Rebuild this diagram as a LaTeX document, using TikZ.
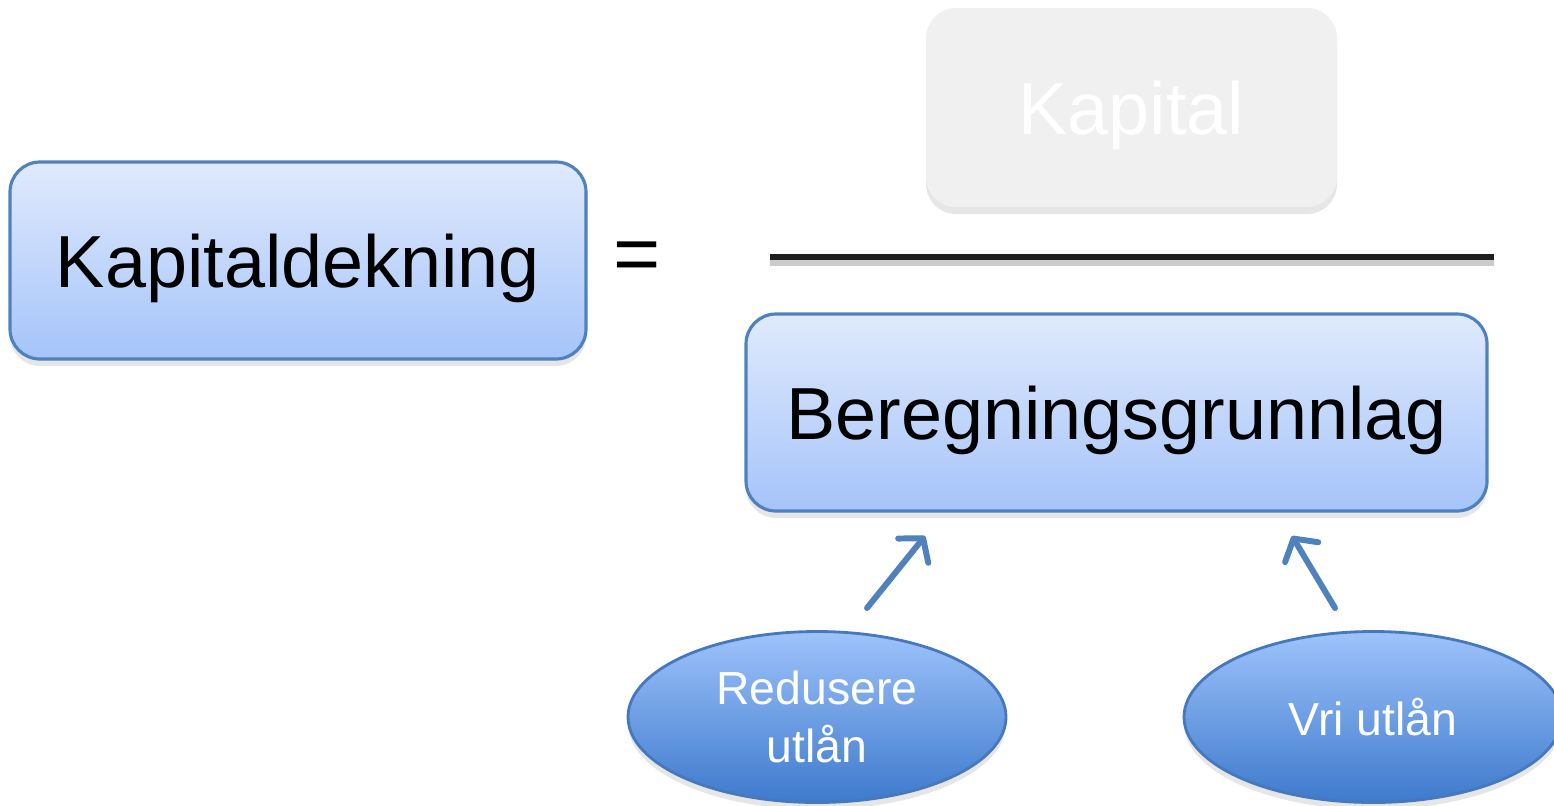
\documentclass[tikz,border=0pt]{standalone}
\usepackage{fontspec}
\setmainfont{Liberation Sans}
\usetikzlibrary{arrows.meta, shadings, shadows, shapes.geometric}

\definecolor{boxline}{RGB}{79,129,189}
\definecolor{boxtop}{RGB}{224,234,252}
\definecolor{boxbottom}{RGB}{165,196,250}
\definecolor{kapitalgrey}{RGB}{240,240,240}
\definecolor{ovalline}{RGB}{70,120,190}
\definecolor{ovaltop}{RGB}{158,195,251}
\definecolor{ovalbottom}{RGB}{62,122,204}
\definecolor{arrowblue}{RGB}{79,129,189}

\tikzset{
	boks/.style={rounded corners=0.3cm, minimum height=1.97cm, font=\fontsize{21}{25}\selectfont, text height=20pt, text depth=4.4pt, drop shadow={shadow xshift=0pt, shadow yshift=-2pt, opacity=0.2}},
	blaboks/.style={boks, draw=boxline, line width=0.9pt, top color=boxtop, bottom color=boxbottom},
	graboks/.style={boks, fill=kapitalgrey, text=white},
	oval/.style={ellipse, draw=ovalline, line width=0.8pt, top color=ovaltop, bottom color=ovalbottom, text=white, minimum width=3.78cm, minimum height=1.71cm, inner sep=0pt, align=center, font=\fontsize{13.2}{16.5}\selectfont, drop shadow={shadow xshift=0pt, shadow yshift=-2pt, opacity=0.2}},
	pil/.style={->, line width=1.7pt, draw=arrowblue, line cap=round}
}

\begin{document}
\begin{tikzpicture}[>={Straight Barb[length=4.5pt, width=11pt, line width=1.7pt, round]}]
				\useasboundingbox (0, 0) rectangle (15.54, -8.05);

				\node[blaboks, minimum width=5.76cm] at (2.98, -2.605) (kapitaldekning) {Kapitaldekning};
				\node[font=\fontsize{23}{27}\selectfont] at (6.37, -2.62) (likhetstegn) {=};

				\node[graboks, minimum width=4.11cm, minimum height=1.99cm] at (11.315, -1.075) (kapital) {Kapital};
				\node[blaboks, minimum width=7.41cm] at (11.165, -4.125) (beregningsgrunnlag) {Beregningsgrunnlag};

				% broekstrek
				\coordinate (brok-venstre) at (7.70, -2.57);
				\coordinate (brok-hoyre) at (14.94, -2.57);
				\draw[line width=2.2pt, black!20] ([yshift=-1.5pt]brok-venstre) -- ([yshift=-1.5pt]brok-hoyre);
				\draw[line width=1.7pt, black!88] (brok-venstre) -- (brok-hoyre);

				\node[oval] at (8.17, -7.17) (redusere-utlan) {Redusere\\utlån};
				\node[oval] at (13.73, -7.17) (vri-utlan) {Vri utlån};

				\coordinate (redusere-pil-start) at (8.67, -6.08);
				\coordinate (redusere-pil-slutt) at (9.25, -5.36);
				\coordinate (vri-pil-start) at (13.35, -6.08);
				\coordinate (vri-pil-slutt) at (12.92, -5.36);

				\draw[pil] (redusere-pil-start) -- (redusere-pil-slutt);
				\draw[pil] (vri-pil-start) -- (vri-pil-slutt);
			\end{tikzpicture}
\end{document}
